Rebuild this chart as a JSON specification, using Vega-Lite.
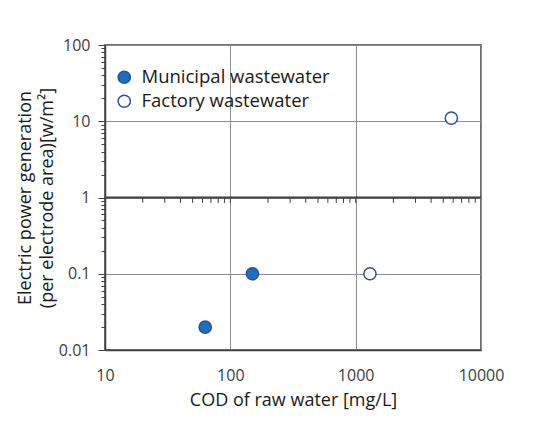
{
  "$schema": "https://vega.github.io/schema/vega-lite/v6.json",
  "width": 376,
  "height": 305,
  "autosize": {"type": "none"},
  "padding": {"left": 105, "top": 45, "right": 52, "bottom": 71},
  "background": "white",
  "config": {
    "font": "Open Sans",
    "view": {"stroke": "#404040", "strokeWidth": 1.5}
  },
  "datasets": {
    "points": [
      {"cod": 63, "power": 0.02, "type": "Municipal wastewater"},
      {"cod": 150, "power": 0.1, "type": "Municipal wastewater"},
      {"cod": 1300, "power": 0.1, "type": "Factory wastewater"},
      {"cod": 5800, "power": 11, "type": "Factory wastewater"}
    ],
    "minor": [
      {"cod": 20}, {"cod": 30}, {"cod": 40}, {"cod": 50}, {"cod": 60}, {"cod": 70}, {"cod": 80}, {"cod": 90},
      {"cod": 100},
      {"cod": 200}, {"cod": 300}, {"cod": 400}, {"cod": 500}, {"cod": 600}, {"cod": 700}, {"cod": 800}, {"cod": 900},
      {"cod": 1000},
      {"cod": 2000}, {"cod": 3000}, {"cod": 4000}, {"cod": 5000}, {"cod": 6000}, {"cod": 7000}, {"cod": 8000}, {"cod": 9000}
    ],
    "one": [{"level": 1}]
  },
  "layer": [
    {
      "data": {"name": "minor"},
      "mark": {"type": "rule", "color": "#404040", "strokeWidth": 1},
      "encoding": {
        "x": {"field": "cod", "type": "quantitative", "scale": {"type": "log", "domain": [10, 10000]}, "axis": {"title": "COD of raw water [mg/L]"}},
        "y": {"datum": 1, "type": "quantitative", "scale": {"type": "log", "domain": [0.01, 100]}, "axis": {"title": ["Electric power generation", "(per electrode area)[w/m²]"]}},
        "y2": {"datum": 0.85}
      }
    },
    {
      "data": {"name": "one"},
      "mark": {"type": "rule", "color": "#404040", "strokeWidth": 2},
      "encoding": {
        "y": {"field": "level", "type": "quantitative", "scale": {"type": "log", "domain": [0.01, 100]}, "axis": {"title": ["Electric power generation", "(per electrode area)[w/m²]"]}}
      }
    },
    {
      "data": {"name": "points"},
      "mark": {"type": "point", "shape": "circle", "filled": true, "size": 150, "stroke": "#2f528f", "strokeWidth": 1.5, "opacity": 1},
      "encoding": {
        "x": {
          "field": "cod", "type": "quantitative",
          "scale": {"type": "log", "domain": [10, 10000]},
          "axis": {
            "values": [10, 100, 1000, 10000],
            "format": "d",
            "ticks": false,
            "labelFlush": false,
            "grid": true,
            "gridColor": "#8c8c8c",
            "gridWidth": 1,
            "domainColor": "#404040",
            "domainWidth": 1.5,
            "labelFontSize": 16,
            "labelColor": "#404040",
            "labelPadding": 17,
            "title": "COD of raw water [mg/L]",
            "titleFontSize": 18,
            "titleFontWeight": "normal",
            "titleColor": "#1a1a1a",
            "titlePadding": 8
          }
        },
        "y": {
          "field": "power", "type": "quantitative",
          "scale": {"type": "log", "domain": [0.01, 100]},
          "axis": {
            "values": [0.01, 0.02, 0.03, 0.04, 0.05, 0.06, 0.07, 0.08, 0.09, 0.1, 0.2, 0.3, 0.4, 0.5, 0.6, 0.7, 0.8, 0.9, 1, 2, 3, 4, 5, 6, 7, 8, 9, 10, 20, 30, 40, 50, 60, 70, 80, 90, 100],
            "labelExpr": "abs(log(datum.value)/LN10 - round(log(datum.value)/LN10)) < 0.001 ? toString(datum.value) : ''",
            "tickSize": {"condition": {"test": "abs(log(datum.value)/LN10 - round(log(datum.value)/LN10)) < 0.001", "value": 7}, "value": 4},
            "tickColor": "#404040",
            "tickWidth": 1,
            "grid": true,
            "gridColor": "#8c8c8c",
            "gridWidth": 1,
            "gridOpacity": {"condition": {"test": "abs(log(datum.value)/LN10 - round(log(datum.value)/LN10)) < 0.001", "value": 1}, "value": 0},
            "domainColor": "#404040",
            "domainWidth": 1.5,
            "labelFontSize": 16,
            "labelColor": "#404040",
            "labelPadding": 8,
            "labelOverlap": false,
            "title": ["Electric power generation", "(per electrode area)[w/m²]"],
            "titleFontSize": 18,
            "titleFontWeight": "normal",
            "titleColor": "#1a1a1a",
            "titleLineHeight": 22,
            "titlePadding": 2
          }
        },
        "fill": {
          "field": "type", "type": "nominal",
          "scale": {"domain": ["Municipal wastewater", "Factory wastewater"], "range": ["#1f6fbf", "#ffffff"]},
          "legend": {
            "title": null,
            "orient": "none",
            "legendX": 10,
            "legendY": 23,
            "padding": 0,
            "symbolType": "circle",
            "symbolSize": 150,
            "symbolStrokeColor": "#2f528f",
            "symbolStrokeWidth": 1.5,
            "labelFontSize": 18.5,
            "labelLimit": 400,
            "labelColor": "#1a1a1a",
            "labelOffset": 8,
            "rowPadding": 5
          }
        }
      }
    }
  ]
}
